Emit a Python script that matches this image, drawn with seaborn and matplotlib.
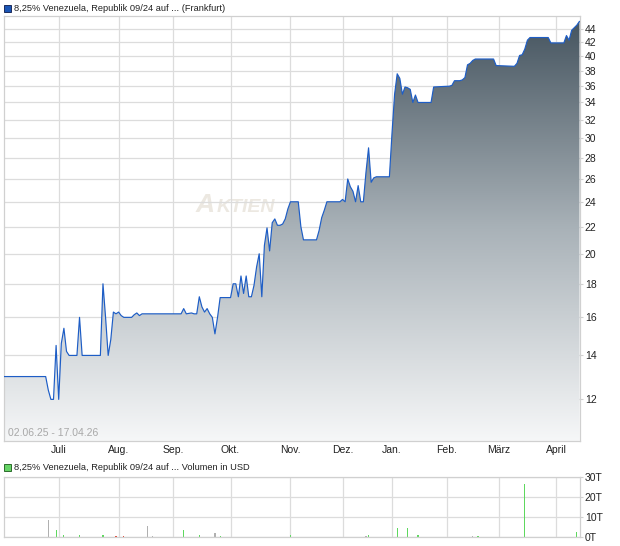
import numpy as np
import matplotlib
matplotlib.use("Agg")
import matplotlib.pyplot as plt
import seaborn as sns
from matplotlib.colors import LinearSegmentedColormap
from matplotlib.patches import Rectangle

sns.set_style("white")
plt.rcParams["font.family"] = ["Liberation Sans", "DejaVu Sans"]

# --------------------------------------------------
# Data (x = trading session since 02.06.25)
# --------------------------------------------------

price_day = [0, 16, 17, 18, 19, 20, 21, 22, 23, 24, 25, 28, 29, 30, 37, 38, 39, 40,
             41, 42, 43, 44, 45, 46, 49, 50, 51, 52, 53, 68, 69, 70, 72, 73, 74, 75,
             76, 77, 78, 79, 80, 81, 82, 83, 87, 88, 89, 90, 91, 92, 93, 94, 95, 96,
             97, 98, 99, 100, 101, 102, 103, 104, 105, 106, 107, 108, 109, 110, 113,
             114, 115, 120, 121, 122, 123, 124, 129, 130, 131, 132, 133, 134, 135,
             136, 137, 138, 139, 140, 141, 142, 143, 148, 149, 150, 151, 152, 153,
             154, 155, 156, 157, 158, 159, 164, 165, 171, 172, 173, 175, 176, 177,
             178, 179, 180, 181, 188, 189, 196, 197, 198, 199, 200, 201, 202, 209,
             210, 215, 216, 217, 218, 219, 220, 221]
price_value = [13.0, 13.0, 12.4, 12.0, 12.0, 14.5, 12.0, 14.6, 15.4, 14.2, 14.0, 14.0,
               16.0, 14.0, 14.0, 18.0, 16.0, 14.0, 14.8, 16.3, 16.2, 16.3, 16.1, 16.0,
               16.0, 16.15, 16.25, 16.1, 16.2, 16.2, 16.5, 16.2, 16.25, 16.2, 16.2,
               17.2, 16.6, 16.3, 16.5, 16.2, 16.0, 15.1, 16.0, 17.15, 17.15, 18.0,
               18.0, 17.2, 18.5, 17.4, 18.5, 17.2, 17.2, 17.9, 19.1, 20.0, 17.2, 20.6,
               21.9, 20.2, 22.3, 22.6, 22.1, 22.1, 22.2, 22.6, 23.4, 24.0, 24.0, 22.0,
               21.0, 21.0, 21.7, 22.7, 23.3, 24.0, 24.0, 24.2, 24.0, 26.0, 25.3, 24.9,
               24.0, 25.4, 24.0, 24.0, 26.6, 29.0, 25.7, 26.1, 26.2, 26.2, 30.5, 35.0,
               37.6, 37.0, 35.0, 35.9, 35.8, 35.6, 34.0, 34.9, 34.0, 34.0, 35.9, 36.0,
               36.1, 36.7, 36.7, 36.8, 37.1, 38.8, 39.0, 39.4, 39.6, 39.6, 38.7, 38.6,
               39.0, 40.1, 40.2, 41.0, 42.3, 42.7, 42.7, 41.9, 41.9, 43.0, 42.3, 43.8,
               44.2, 44.6, 45.2]

vol_day = [17, 20, 23, 29, 38, 43, 46, 55, 57, 69, 75, 81, 83, 90, 110, 135, 139, 140,
           151, 155, 159, 180, 182, 200, 220]
vol_value = [8.4, 3.4, 0.8, 0.8, 0.8, 0.3, 0.3, 5.4, 0.6, 3.4, 0.8, 1.8, 0.3, 0.2, 0.8,
             0.2, 0.5, 0.8, 4.5, 4.5, 0.8, 0.6, 0.3, 26.3, 2.5]
vol_move = ["flat", "up", "up", "up", "up", "down", "down", "flat", "flat", "up", "up",
            "flat", "up", "flat", "up", "down", "flat", "up", "up", "up", "up", "flat",
            "up", "up", "up"]

month_day = [21, 44, 65, 87, 110, 130, 149, 170, 190, 212]
month_label = ["Juli", "Aug.", "Sep.", "Okt.", "Nov.", "Dez.", "Jan.", "Feb.", "März", "April"]

price_ticks = list(range(12, 46, 2))
vol_ticks = [0, 10, 20, 30]

title_price = "8,25% Venezuela, Republik 09/24 auf ... (Frankfurt)"
title_vol = "8,25% Venezuela, Republik 09/24 auf ... Volumen in USD"
date_range = "02.06.25 - 17.04.26"

# --------------------------------------------------
# Figure
# --------------------------------------------------

W, H = 620, 546
fig = plt.figure(figsize=(W / 100, H / 100), dpi=100)
fig.patch.set_facecolor("white")

ax = fig.add_axes([3.5 / W, 105 / H, 576.5 / W, 425 / H])
axv = fig.add_axes([3.5 / W, 9 / H, 576.5 / W, 60 / H])

grid_col = "#dcdcdc"
spine_col = "#d0d0d0"
xlim = (-0.2, 221.2)
ylim = (10.37, 46.05)

# price panel
ax.set_yscale("log")

cmap = LinearSegmentedColormap.from_list("fill", ["#f6f7f8", "#a9b2b8", "#44535e"])
grad = np.linspace(0, 1, 256).reshape(-1, 1)
im = ax.imshow(grad, cmap=cmap, aspect="auto", extent=[0, 1, 0, 1],
               transform=ax.transAxes, origin="lower", zorder=1)
area = ax.fill_between(price_day, price_value, ylim[0], color="none", lw=0)
im.set_clip_path(area.get_paths()[0], transform=ax.transData)

sns.lineplot(x=price_day, y=price_value, ax=ax, color="#1d5dc6", linewidth=0.85, zorder=3)

ax.set_xlim(*xlim)
ax.set_ylim(*ylim)
ax.set_yticks(price_ticks)
ax.set_yticklabels([str(t) for t in price_ticks])
ax.yaxis.set_minor_locator(matplotlib.ticker.NullLocator())
ax.set_xticks(month_day)
ax.set_xticklabels(month_label)
ax.yaxis.tick_right()
ax.grid(True, color=grid_col, linewidth=0.9, zorder=0)
ax.set_axisbelow(True)
ax.tick_params(axis="y", length=2, color=spine_col, labelsize=7.5, pad=1.5, labelcolor="#222222")
ax.tick_params(axis="x", length=2, color=spine_col, labelsize=7.5, pad=1, labelcolor="#222222")
ax.set_xlabel("")
ax.set_ylabel("")
for s in ax.spines.values():
    s.set_color(spine_col)
    s.set_linewidth(0.9)

# watermark
ax.text(0.333, 0.555, "A", transform=ax.transAxes, fontsize=19, fontstyle="italic",
        fontweight="bold", color="#ece8e1", va="center", ha="left", zorder=0.5)
ax.text(0.37, 0.549, "KTIEN", transform=ax.transAxes, fontsize=14, fontstyle="italic",
        fontweight="bold", color="#ece8e1", va="center", ha="left", zorder=0.5)

ax.text(0.008, 0.008, date_range, transform=ax.transAxes, color="#a8a8a8",
        fontsize=7.5, va="bottom", ha="left", zorder=4)

# volume panel
move_col = {"up": "#5ed85e", "down": "#e04a3a", "flat": "#b0b0b0"}
axv.bar(vol_day, vol_value, width=0.45, color=[move_col[m] for m in vol_move],
        linewidth=0, zorder=2)
axv.set_xlim(*xlim)
axv.set_ylim(0, 30)
axv.set_yticks(vol_ticks)
axv.set_yticklabels([f"{v}T" for v in vol_ticks])
axv.set_xticks(month_day)
axv.set_xticklabels([])
axv.yaxis.tick_right()
axv.grid(True, color=grid_col, linewidth=0.9, zorder=0)
axv.set_axisbelow(True)
axv.tick_params(axis="y", length=2, color=spine_col, labelsize=7.5, pad=1.5, labelcolor="#222222")
axv.tick_params(axis="x", length=0)
for s in axv.spines.values():
    s.set_color(spine_col)
    s.set_linewidth(0.9)

# legends / titles
fig.patches.append(Rectangle((4 / W, 1 - 12 / H), 7 / W, 7 / H, transform=fig.transFigure,
                             facecolor="#1a55b5", edgecolor="#1c2c5c", lw=0.7))
fig.text(14 / W, 1 - 8.5 / H, title_price, fontsize=6.7, color="#222222", va="center", ha="left")

fig.patches.append(Rectangle((4 / W, 1 - 471 / H), 7 / W, 7 / H, transform=fig.transFigure,
                             facecolor="#66d466", edgecolor="#2c6c2c", lw=0.7))
fig.text(14 / W, 1 - 467.5 / H, title_vol, fontsize=6.7, color="#222222", va="center", ha="left")

fig.savefig("out.png", dpi=100, facecolor="white")
